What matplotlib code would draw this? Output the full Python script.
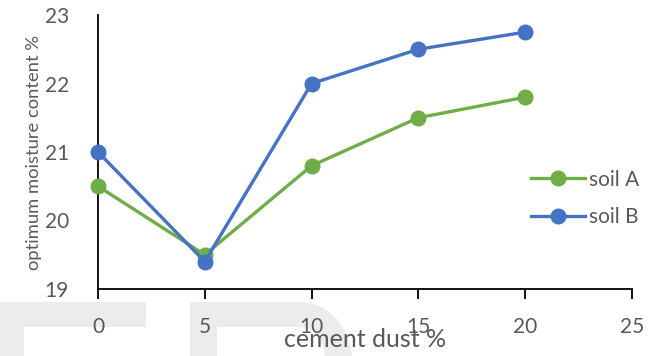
import numpy as np
import matplotlib
matplotlib.use("Agg")
import matplotlib.pyplot as plt
from matplotlib.path import Path
from matplotlib.patches import PathPatch, Rectangle

# cement dust content (%) and optimum moisture content (%)
cement_dust = [0, 5, 10, 15, 20]
soil_a = [20.5, 19.5, 20.8, 21.5, 21.8]
soil_b = [21.0, 19.4, 22.0, 22.5, 22.75]

x_ticks = [0, 5, 10, 15, 20, 25]
y_ticks = [19, 20, 21, 22, 23]

GREEN = "#70AD47"
BLUE = "#4472C4"
TEXT = "#595959"
WM = "#ececec"

plt.rcParams["font.family"] = ["Lato", "DejaVu Sans"]

W, H = 668, 356
fig = plt.figure(figsize=(W / 100, H / 100), dpi=100)

# faint background lettering along the bottom edge (pixel coordinates)
bg = fig.add_axes([0, 0, 1, 1], zorder=0)
bg.set_xlim(0, W)
bg.set_ylim(H, 0)
bg.axis("off")
bg.add_patch(Rectangle((0, 302), 146, 25, color=WM, lw=0))
bg.add_patch(Rectangle((0, 302), 24, 60, color=WM, lw=0))
verts = [(190, 360), (190, 302), (300, 302),
         (330, 302), (352, 330), (352, 360),
         (325, 360), (325, 340), (315, 327), (300, 327),
         (217, 327), (217, 360), (190, 360)]
codes = [Path.MOVETO, Path.LINETO, Path.LINETO,
         Path.CURVE4, Path.CURVE4, Path.CURVE4,
         Path.LINETO, Path.CURVE4, Path.CURVE4, Path.CURVE4,
         Path.LINETO, Path.LINETO, Path.CLOSEPOLY]
bg.add_patch(PathPatch(Path(verts, codes), color=WM, lw=0))

ax = fig.add_axes([98 / W, 1 - 289 / H, (632 - 98) / W, (289 - 15) / H], zorder=1)
ax.patch.set_alpha(0)

ax.plot(cement_dust, soil_a, color=GREEN, lw=2.4, marker="o", ms=10.5,
        label="soil A", zorder=3)
ax.plot(cement_dust, soil_b, color=BLUE, lw=2.4, marker="o", ms=10.5,
        label="soil B", zorder=4)

ax.set_xlim(0, 25)
ax.set_ylim(19, 23)
ax.set_xticks(x_ticks)
ax.set_yticks(y_ticks)

for side in ["top", "right"]:
    ax.spines[side].set_visible(False)
for side in ["left", "bottom"]:
    ax.spines[side].set_color("black")
    ax.spines[side].set_linewidth(1.3)

ax.tick_params(axis="x", direction="out", length=7, width=1.3, color="black",
               labelsize=15, labelcolor=TEXT, pad=13)
ax.tick_params(axis="y", length=0, labelsize=15, labelcolor=TEXT, pad=21)

ax.set_xlabel("cement dust %", fontsize=18, color=TEXT, labelpad=-6)
ax.set_ylabel("optimum moisture content %", fontsize=13.2, color=TEXT, labelpad=2)

ax.legend(loc="center left", bbox_to_anchor=(0.775, 0.33), frameon=False,
          fontsize=15, labelcolor=TEXT, handlelength=2.6, handletextpad=0.2,
          labelspacing=0.85)

for line in ax.lines:
    line.set_clip_on(False)

fig.savefig("out.png", dpi=100)
